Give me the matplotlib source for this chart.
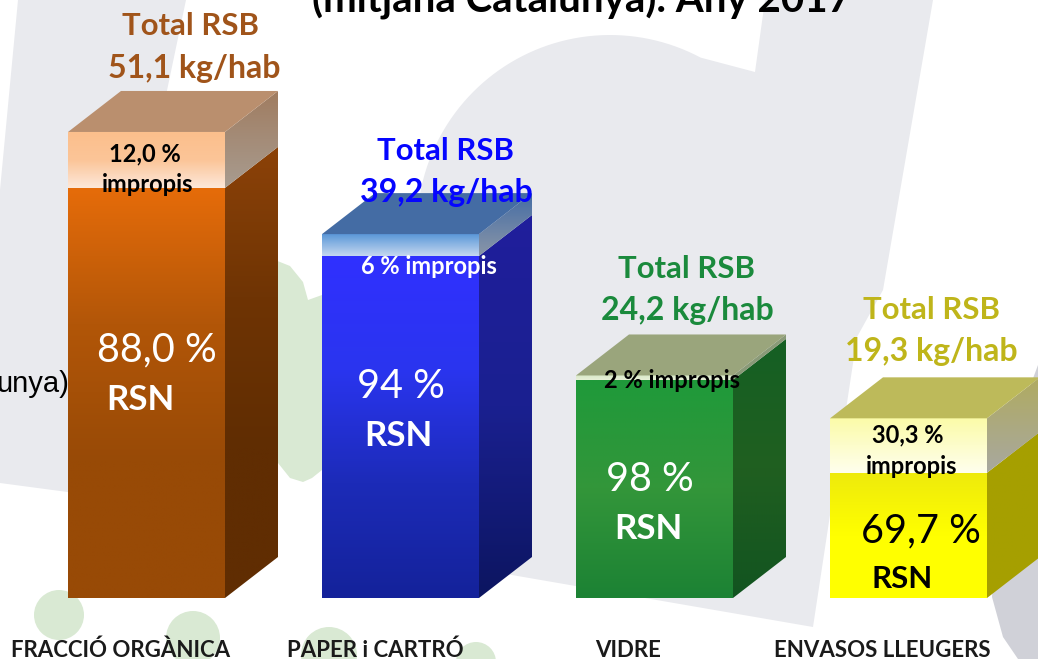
import numpy as np
import matplotlib
matplotlib.use('Agg')
import matplotlib.pyplot as plt
from matplotlib.colors import LinearSegmentedColormap
from matplotlib.patches import Polygon, Circle

# Dades llegides de la imatge
categories = ['FRACCIÓ ORGÀNICA', 'PAPER i CARTRÓ', 'VIDRE', 'ENVASOS LLEUGERS']
total_labels = ['51,1 kg/hab', '39,2 kg/hab', '24,2 kg/hab', '19,3 kg/hab']
bar_heights = [51.1, 39.9, 24.4, 19.7]  # alçada dibuixada, kg/hab
impropis = [12.0, 6.0, 2.0, 30.3]  # % de la barra
rsn_labels = ['88,0 %', '94 %', '98 %', '69,7 %']

W, H = 1038, 659
X_STEP = 254.0
Y_SCALE = 9.12
BAR_W = 157 / X_STEP
DEPTH_X = 53 / X_STEP
DEPTH_Y = 41 / Y_SCALE

# colors: front, side, upper front, upper side, top
styles = [
    dict(front=['#e66c0a', '#b25608', '#984a06', '#984a06'], side=['#8c4208', '#6f3404', '#602d02', '#602d02'],
         ufront=['#fcbf8c', '#fbc598', '#fde8da'], uside=['#a07c60', '#a89c90'], top='#ba8f6e',
         text='#a0541a', pct='white', imp='black'),
    dict(front=['#3030ff', '#2a35ef', '#1c2bb8', '#14229a'], side=['#201e9c', '#1a2090', '#0c1560'],
         ufront=['#5a97d8', '#c5d8f0'], uside=['#446ca4', '#8a96a8'], top='#446ca4',
         text='#0505ff', pct='white', imp='white'),
    dict(front=['#1f9a3a', '#33963a', '#1c8234'], side=['#156024', '#205f20', '#125420'],
         ufront=['#d8e8c8', '#e8f0d8'], uside=['#8a9a78', '#8a9a78'], top='#9aa57c',
         text='#1a8a3c', pct='white', imp='black'),
    dict(front=['#eeea0c', '#ffff00', '#ffff00'], side=['#a69f00', '#a6a000'],
         ufront=['#fbfba8', '#ffffee'], uside=['#b0ab60', '#a8a8a0'], top='#bdba5a',
         text='#bfb51a', pct='black', imp='black'),
]

# desplaçaments dels textos en píxels respecte al centre i al cim de la barra
total_pos = [(43.5, 97), (44.5, 74), (31.5, 97), (22.5, 99)]
kg_pos = [(47.5, 54), (45.5, 32), (32.5, 55), (22.5, 57)]
pct_pos = [(10.5, -230), (0.5, -164), (-4.5, -116), (12.5, -124)]
rsn_pos = [(-6.5, -278), (-2.5, -212), (-6.5, -164), (-6.5, -170)]
rsn_sizes = [25, 25, 25, 22.5]
cat_pos = [-25.5, -25.5, -26.5, -26.5]

plt.rcParams['font.family'] = ['Lato', 'DejaVu Sans']
fig = plt.figure(figsize=(W / 100, H / 100), dpi=100, facecolor='white')

# fons decoratiu, en píxels
bg = fig.add_axes([0, 0, 1, 1])
bg.set_xlim(0, W)
bg.set_ylim(H, 0)
bg.axis('off')
GREY = '#e9eaee'
GREEN = '#d9e9d3'
bg.add_patch(Polygon([(18, 0), (186, 0), (165, 100), (165, 505), (0, 483), (0, 190)], fc=GREY, ec='none'))
ang = np.radians(np.linspace(62, 182, 60))
arc = [(610 + 193 * np.cos(a), 228 - 193 * np.sin(a)) for a in ang]
bg.add_patch(Polygon(arc + [(425, 560), (813, 627), (857, 337), (883, 290), (933, 0), (765, 0), (755, 72)],
                     fc=GREY, ec='none'))
bg.add_patch(Polygon([(1038, 365), (1025, 400), (1000, 480), (992, 597), (1003, 637), (1018, 659), (1038, 659)],
                     fc='#d0d1d8', ec='none'))
bg.add_patch(Polygon([(270, 258), (290, 266), (303, 282), (308, 300), (322, 295), (335, 290), (335, 450),
                      (322, 470), (312, 478), (303, 482), (290, 478), (278, 463), (270, 450)],
                     fc=GREEN, ec='none'))
for c, r in [((59, 615), 25), ((193, 638), 27), ((329, 655), 28), ((476, 662), 20)]:
    bg.add_patch(Circle(c, r, fc=GREEN, ec='none'))

# barres
ax = fig.add_axes([0, 0, 1, 1])
ax.patch.set_alpha(0)
ax.axis('off')


def gradient(colors, x0, x1, y0, y1, outline):
    cmap = LinearSegmentedColormap.from_list('g', colors)
    im = ax.imshow(np.linspace(0, 1, 256).reshape(-1, 1), cmap=cmap, extent=(x0, x1, y0, y1),
                   origin='upper', aspect='auto', interpolation='bilinear', zorder=2)
    poly = Polygon(outline, closed=True, transform=ax.transData, fc='none', ec='none')
    ax.add_patch(poly)
    im.set_clip_path(poly)


for i, h in enumerate(bar_heights):
    st = styles[i]
    x0, x1 = i - BAR_W / 2, i + BAR_W / 2
    xb = x1 + DEPTH_X
    split = h * (1 - impropis[i] / 100)
    gradient(st['front'], x0, x1, 0, split, [(x0, 0), (x1, 0), (x1, split), (x0, split)])
    gradient(st['ufront'], x0, x1, split, h, [(x0, split), (x1, split), (x1, h), (x0, h)])
    gradient(st['side'], x1, xb, 0, split + DEPTH_Y,
             [(x1, 0), (xb, DEPTH_Y), (xb, split + DEPTH_Y), (x1, split)])
    gradient(st['uside'], x1, xb, split, h + DEPTH_Y,
             [(x1, split), (xb, split + DEPTH_Y), (xb, h + DEPTH_Y), (x1, h)])
    ax.add_patch(Polygon([(x0, h), (x1, h), (xb, h + DEPTH_Y), (x0 + DEPTH_X, h + DEPTH_Y)],
                         fc=st['top'], ec='none', zorder=2))

ax.set_xlim(-146.5 / X_STEP, (W - 146.5) / X_STEP)
ax.set_ylim(-(H - 598) / Y_SCALE, 598 / Y_SCALE)


def label(i, y, off, s, size, color, weight='bold'):
    ax.annotate(s, xy=(i, y), xytext=off, textcoords='offset pixels', ha='center', va='baseline',
                fontsize=size, color=color, fontweight=weight, zorder=5, annotation_clip=False)


for i, h in enumerate(bar_heights):
    st = styles[i]
    label(i, h, total_pos[i], 'Total RSB', 22.4, st['text'])
    label(i, h, kg_pos[i], total_labels[i], 23, st['text'])
    label(i, h, pct_pos[i], rsn_labels[i], 28.5, st['pct'], 'normal')
    label(i, h, rsn_pos[i], 'RSN', rsn_sizes[i], st['pct'])
    label(i, 0, (cat_pos[i], -59), categories[i], 16, '#1a1a1a')

# textos d'impropis
label(0, bar_heights[0], (-1.5, -29), '12,0 %', 17, 'black')
label(0, bar_heights[0], (1.5, -60), 'impropis', 17, 'black')
label(1, bar_heights[1], (28.5, -40), '6 % impropis', 17, 'white')
label(2, bar_heights[2], (17.5, -13), '2 % impropis', 17, 'black')
label(3, bar_heights[3], (-0.5, -24), '30,3 %', 17, 'black')
label(3, bar_heights[3], (3.5, -56), 'impropis', 17, 'black')

# textos tallats de la diapositiva
bg.text(581, 12, '(mitjana Catalunya). Any 2017', ha='center', va='baseline', fontsize=29,
        fontweight='bold', color='black', zorder=6)
fig.text(69 / W, 1 - 392 / H, 'unya)', ha='right', va='baseline', fontsize=21,
         family='Liberation Sans', color='black')

fig.savefig('out.png', dpi=100)
